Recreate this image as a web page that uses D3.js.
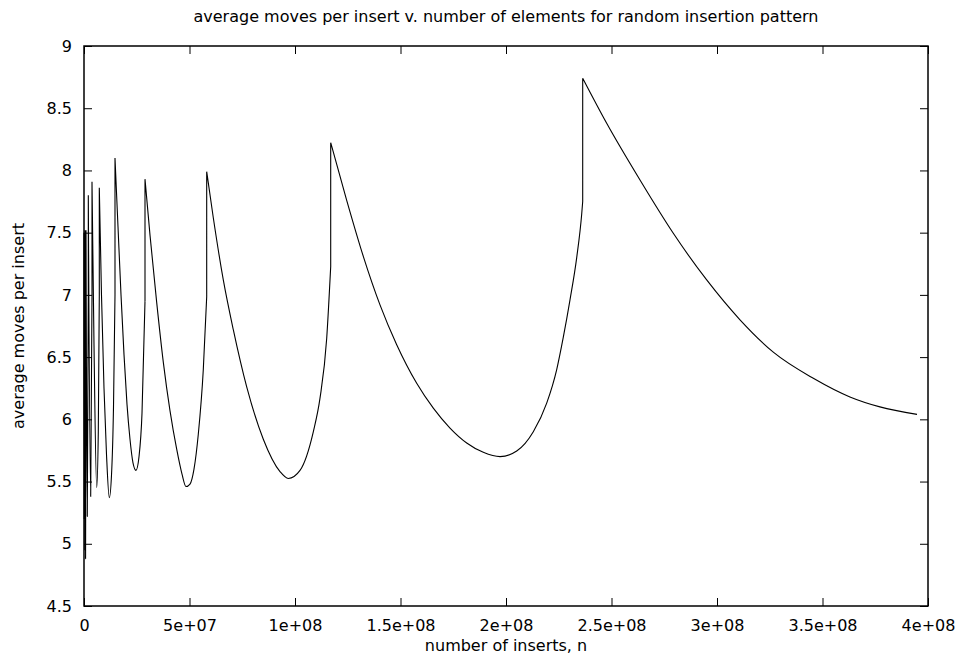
<!DOCTYPE html>
<html lang="en">
<head>
<meta charset="UTF-8">
<title>average moves per insert</title>
<script src="https://cdn.jsdelivr.net/npm/d3@7/dist/d3.min.js"></script>
<style>
  body { margin: 0; background: #fff; }
  svg text { font-family: "DejaVu Sans", "Liberation Sans", sans-serif; font-size: 16px; fill: #000; }
</style>
</head>
<body>
<svg width="960" height="665"></svg>
<script>
// number of inserts n, and average moves per insert
// a repeated n is the vertical jump where the structure grows
let inserts = [
    0, 0.12e6, 0.23e6,
    0.23e6, 0.38e6, 0.47e6,
    0.47e6, 0.75e6, 0.95e6,
    0.95e6, 1.56e6, 2.04e6,
    2.04e6, 3.17e6, 3.79e6,
    3.79e6, 4.74e6, 6.02e6, 6.78e6, 7.25e6,
    7.25e6, 8.29e6, 9.48e6, 10.66e6, 12.0e6, 13.03e6, 13.98e6, 14.69e6,
    14.69e6, 16.11e6, 17.54e6, 18.96e6, 20.38e6, 21.8e6, 23.22e6, 24.64e6, 26.07e6, 27.49e6, 28.91e6,
    28.91e6, 31.28e6, 34.45e6, 37.58e6, 40.75e6, 43.93e6, 46.45e6, 48.34e6, 50.24e6, 52.13e6,
    54.17e6, 56.54e6, 58.15e6,
    58.15e6, 61.28e6, 66.02e6, 70.76e6, 77.11e6, 84.98e6, 92.89e6, 96.82e6, 102.37e6, 108.67e6,
    111.85e6, 115.02e6, 116.92e6,
    116.92e6, 124.5e6, 132.37e6, 140.28e6, 148.2e6, 157.68e6, 165.55e6, 173.46e6, 181.38e6, 189.24e6,
    197.16e6, 205.07e6, 212.94e6, 219.29e6, 224.03e6, 227.16e6, 230.33e6, 233.51e6, 235.88e6, 236.35e6,
    236.35e6, 247.72e6, 263.51e6, 279.29e6, 295.12e6, 310.9e6, 326.68e6, 345.64e6, 363.0e6, 377.2e6,
    394.8e6
];
let moves = [
    7.50, 5.20, 6.90,
    7.45, 4.95, 6.95,
    7.52, 4.88, 6.95,
    7.52, 5.22, 7.00,
    7.80, 5.38, 7.00,
    7.91, 6.60, 5.45, 5.90, 7.00,
    7.86, 7.00, 6.25, 5.72, 5.37, 5.55, 6.10, 7.00,
    8.10, 7.55, 7.00, 6.52, 6.12, 5.84, 5.65, 5.59, 5.70, 6.05, 6.95,
    7.93, 7.48, 6.94, 6.46, 6.07, 5.76, 5.56, 5.46, 5.48, 5.60,
    5.88, 6.40, 6.985,
    7.99, 7.62, 7.12, 6.72, 6.26, 5.84, 5.58, 5.525, 5.59, 5.90,
    6.17, 6.65, 7.227,
    8.223, 7.76, 7.31, 6.92, 6.60, 6.29, 6.09, 5.93, 5.81, 5.735,
    5.70, 5.745, 5.90, 6.13, 6.40, 6.66, 6.96, 7.30, 7.65, 7.75,
    8.741, 8.379, 7.923, 7.495, 7.12, 6.80, 6.54, 6.33, 6.18, 6.10,
    6.04
];

let xTicks = [0, 5e7, 1e8, 1.5e8, 2e8, 2.5e8, 3e8, 3.5e8, 4e8];
let xTickLabels = ["0", "5e+07", "1e+08", "1.5e+08", "2e+08", "2.5e+08", "3e+08", "3.5e+08", "4e+08"];
let yTicks = [4.5, 5, 5.5, 6, 6.5, 7, 7.5, 8, 8.5, 9];
let yTickLabels = ["4.5", "5", "5.5", "6", "6.5", "7", "7.5", "8", "8.5", "9"];

let svg = d3.select('svg');
let pLeft = 84, pRight = 928, pTop = 46, pBottom = 606;

let scaleX = d3.scaleLinear().domain([0, 4e8]).range([pLeft, pRight]);
let scaleY = d3.scaleLinear().domain([4.5, 9]).range([pBottom, pTop]);

// split into smooth pieces between the jumps, the jumps themselves are straight
let pieces = [], jumps = [], cur = [];
inserts.forEach(function (n, i) {
    let p = {n: n, v: moves[i]};
    if (i > 0 && n === inserts[i - 1]) {
        pieces.push(cur);
        jumps.push([cur[cur.length - 1], p]);
        cur = [];
    }
    cur.push(p);
});
pieces.push(cur);

// ticks point inward on all four sides, labels only bottom and left
let xb = svg.append("g")
    .attr("transform", "translate(0," + pBottom + ")")
    .call(d3.axisBottom(scaleX).tickValues(xTicks)
        .tickFormat(function (d, i) { return xTickLabels[i]; })
        .tickSizeInner(-8).tickSizeOuter(0).tickPadding(14));
let xt = svg.append("g")
    .attr("transform", "translate(0," + pTop + ")")
    .call(d3.axisTop(scaleX).tickValues(xTicks).tickFormat("")
        .tickSizeInner(-8).tickSizeOuter(0));
let yl = svg.append("g")
    .attr("transform", "translate(" + pLeft + ",0)")
    .call(d3.axisLeft(scaleY).tickValues(yTicks)
        .tickFormat(function (d, i) { return yTickLabels[i]; })
        .tickSizeInner(-8).tickSizeOuter(0).tickPadding(12));
let yr = svg.append("g")
    .attr("transform", "translate(" + pRight + ",0)")
    .call(d3.axisRight(scaleY).tickValues(yTicks).tickFormat("")
        .tickSizeInner(-8).tickSizeOuter(0));

[xb, xt, yl, yr].forEach(function (g) {
    g.select(".domain").remove();
    g.selectAll("line").attr("stroke", "#000").attr("stroke-width", 1);
    g.attr("font-family", null).attr("font-size", null);
});

svg.append("rect")
    .attr("x", pLeft).attr("y", pTop)
    .attr("width", pRight - pLeft).attr("height", pBottom - pTop)
    .style("fill", "none")
    .style("stroke", "#000")
    .style("stroke-width", "1.5px");

let smooth = d3.line()
    .x(function (d) { return scaleX(d.n); })
    .y(function (d) { return scaleY(d.v); })
    .curve(d3.curveMonotoneX);
let straight = d3.line()
    .x(function (d) { return scaleX(d.n); })
    .y(function (d) { return scaleY(d.v); });

svg.append("path")
    .attr("d", pieces.map(smooth).join("") + jumps.map(straight).join(""))
    .style("fill", "none")
    .style("stroke", "#000")
    .style("stroke-width", "1.1px")
    .style("stroke-linejoin", "round");

svg.append("text")
    .attr("x", (pLeft + pRight) / 2).attr("y", 22)
    .attr("text-anchor", "middle")
    .text("average moves per insert v. number of elements for random insertion pattern");

svg.append("text")
    .attr("x", (pLeft + pRight) / 2).attr("y", 651)
    .attr("text-anchor", "middle")
    .text("number of inserts, n");

svg.append("text")
    .attr("transform", "translate(24," + (pTop + pBottom) / 2 + ") rotate(-90)")
    .attr("text-anchor", "middle")
    .text("average moves per insert");
</script>
</body>
</html>
